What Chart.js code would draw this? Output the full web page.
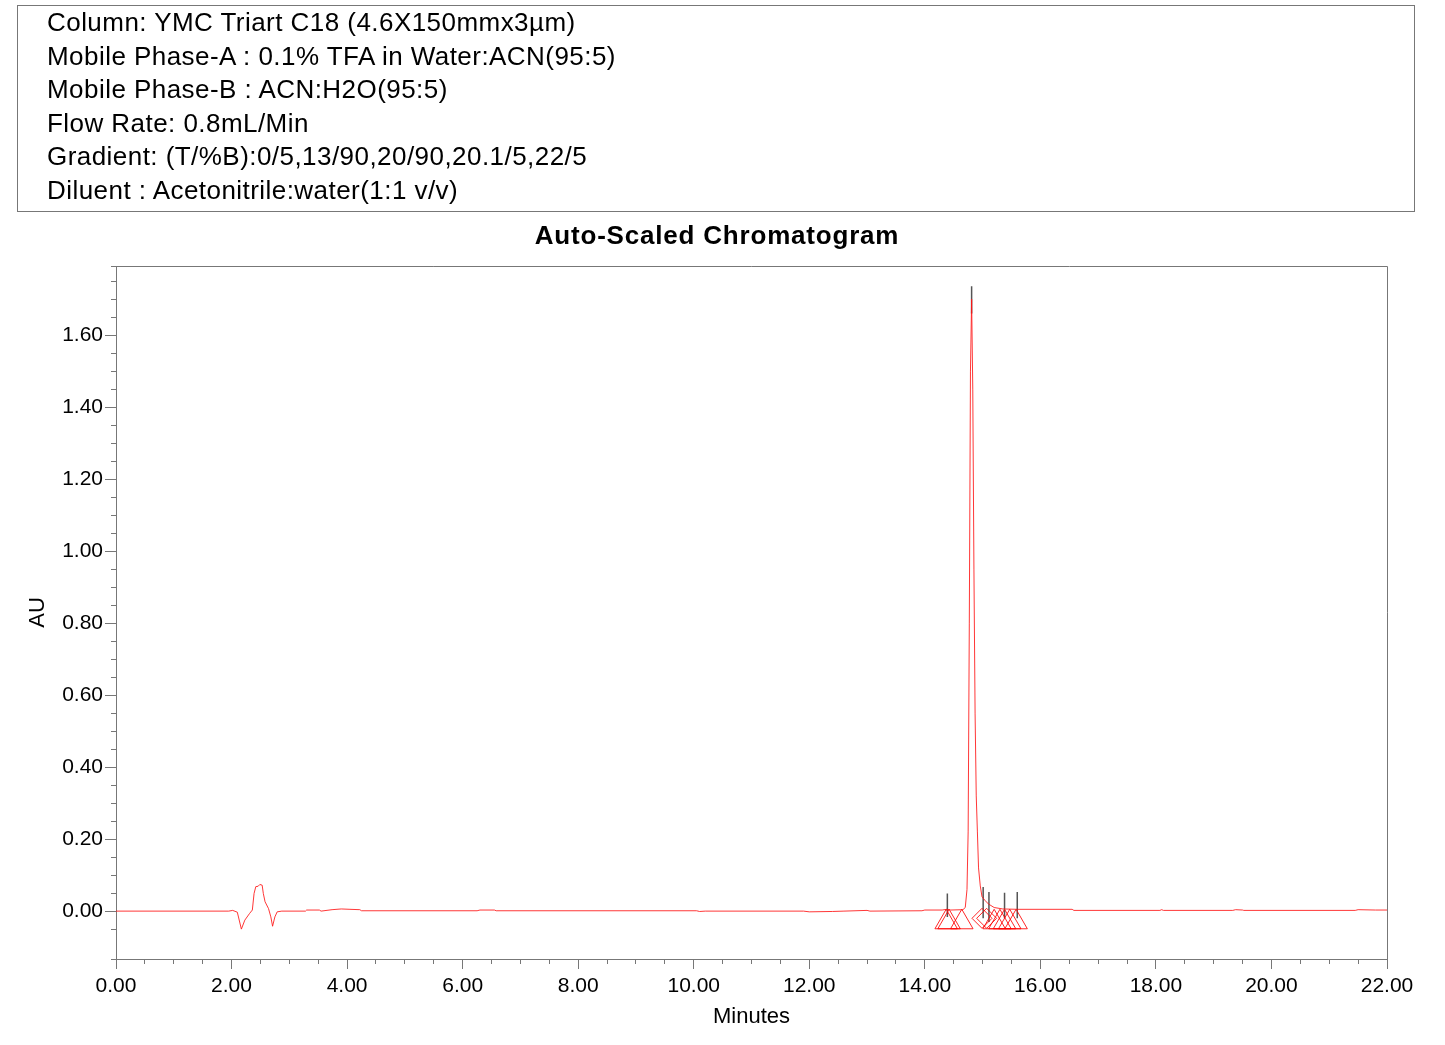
<!DOCTYPE html>
<html>
<head>
<meta charset="utf-8">
<script src="https://cdn.jsdelivr.net/npm/chart.js@4.4.1/dist/chart.umd.min.js"></script>
<style>
  body { margin: 0; background: #fff; font-family: "Liberation Sans", Arial, sans-serif; }
  #wrap { position: relative; width: 1445px; height: 1045px; }
  #info {
    position: absolute; left: 17px; top: 5px; width: 1398px; height: 207px;
    border: 1px solid #777; box-sizing: border-box;
    padding-left: 29px; font-size: 26px; letter-spacing: 0.45px; line-height: 33.6px; color: #000;
  }
  #title {
    position: absolute; left: 0; top: 220px; width: 1434px; text-align: center;
    font-size: 26px; font-weight: bold; letter-spacing: 0.8px; line-height: 30px; color: #000;
  }
  #chart { position: absolute; left: 0; top: 0; }
</style>
</head>
<body>
<div id="wrap">
  <canvas id="chart" width="1445" height="1045"></canvas>
  <div id="info">
    <div>Column: YMC Triart C18 (4.6X150mmx3µm)</div>
    <div>Mobile Phase-A : 0.1% TFA in Water:ACN(95:5)</div>
    <div>Mobile Phase-B : ACN:H2O(95:5)</div>
    <div>Flow Rate: 0.8mL/Min</div>
    <div>Gradient: (T/%B):0/5,13/90,20/90,20.1/5,22/5</div>
    <div>Diluent : Acetonitrile:water(1:1 v/v)</div>
  </div>
  <div id="title">Auto-Scaled Chromatogram</div>
</div>
<script>
// trace (minutes, AU)
const timeMin = [
  0.00, 1.95, 2.02, 2.10, 2.17, 2.23, 2.31, 2.36, 2.39, 2.42, 2.46, 2.49, 2.53, 2.55, 2.58,
  2.64, 2.68, 2.71, 2.75, 2.79, 2.87, 3.28, 3.30, 3.52, 3.55, 3.74, 3.90, 4.05, 4.22, 4.25,
  6.25, 6.30, 6.55, 6.58, 10.05, 10.10, 10.20, 11.90, 12.00, 12.40, 12.60, 13.00, 13.05,
  13.95, 14.00, 14.30, 14.38, 14.45, 14.66, 14.70, 14.73, 14.75, 14.77, 14.79, 14.81, 14.83,
  14.85, 14.87, 14.89, 14.91, 14.93, 14.96, 14.99, 15.04, 15.10, 15.20, 15.35, 15.60, 16.55,
  16.58, 18.07, 18.10, 18.13, 19.33, 19.38, 19.50, 19.52, 21.45, 21.50, 21.80, 22.00
];
const absAU = [
  0.000, 0.000, 0.002, -0.003, -0.050, -0.025, -0.007, 0.003, 0.049, 0.068, 0.069, 0.074, 0.072, 0.049, 0.026,
  0.007, -0.016, -0.042, -0.016, -0.002, 0.000, 0.000, 0.003, 0.003, 0.000, 0.004, 0.006, 0.005, 0.004, 0.001,
  0.001, 0.003, 0.003, 0.001, 0.001, -0.001, 0.000, 0.000, -0.002, -0.001, 0.000, 0.002, 0.000,
  0.001, 0.003, 0.003, 0.005, 0.003, 0.004, 0.010, 0.060, 0.220, 0.800, 1.500, 1.700, 1.450,
  0.950, 0.550, 0.320, 0.220, 0.120, 0.070, 0.040, 0.030, 0.020, 0.010, 0.006, 0.005, 0.005,
  0.002, 0.002, 0.004, 0.002, 0.002, 0.004, 0.003, 0.002, 0.002, 0.004, 0.003, 0.003
];

// peak apex markers (black lines)
const peakTimes = [14.39, 14.81, 15.01, 15.11, 15.38, 15.60];
const peakTop = [0.049, 1.736, 0.067, 0.053, 0.051, 0.053];
const peakBottom = [-0.016, 1.660, -0.020, -0.030, -0.020, -0.020];

// integration start/end markers
const triangleTimes = [14.37, 14.42, 14.64, 15.20, 15.30, 15.38, 15.47, 15.58];
const diamondTimes = [14.99, 15.07];

const triangleLevel = -0.031;
const diamondLevel = -0.020;

const yMin = -0.133, yMax = 1.792;
const xMin = 0, xMax = 22;

const trace = timeMin.map((t, i) => ({ x: t, y: absAU[i] }));
const peakLines = [];
peakTimes.forEach((t, i) => {
  peakLines.push({ x: t, y: peakBottom[i] }, { x: t, y: peakTop[i] }, { x: t, y: null });
});

const axisGrey = '#777';
const tickFont = { family: 'Liberation Sans', size: 21 };
const titleFont = { family: 'Liberation Sans', size: 22 };

const frame = {
  id: 'frame',
  afterDraw(chart) {
    const a = chart.chartArea, ctx = chart.ctx;
    ctx.save();
    ctx.strokeStyle = axisGrey;
    ctx.lineWidth = 1;
    ctx.beginPath();
    ctx.moveTo(a.left, a.top + 0.5);
    ctx.lineTo(a.right + 0.5, a.top + 0.5);
    ctx.lineTo(a.right + 0.5, a.bottom);
    ctx.stroke();
    ctx.restore();
  }
};

new Chart(document.getElementById('chart'), {
  type: 'scatter',
  data: {
    datasets: [
      {
        data: trace, showLine: true, borderColor: 'rgba(255,20,20,0.85)', borderWidth: 1,
        pointRadius: 0, tension: 0
      },
      {
        data: triangleTimes.map(t => ({ x: t, y: triangleLevel })),
        pointStyle: 'triangle', pointRadius: 13, borderColor: 'rgba(255,0,0,0.85)',
        backgroundColor: 'rgba(0,0,0,0)', borderWidth: 1
      },
      {
        data: diamondTimes.map(t => ({ x: t, y: diamondLevel })),
        pointStyle: 'rectRot', pointRadius: 10, borderColor: 'rgba(255,0,0,0.85)',
        backgroundColor: 'rgba(0,0,0,0)', borderWidth: 1
      },
      {
        data: peakLines, showLine: true, spanGaps: false, borderColor: '#555', borderWidth: 1.5,
        pointRadius: 0
      }
    ]
  },
  options: {
    responsive: false,
    animation: false,
    layout: { padding: { top: 266, right: 58, bottom: 0, left: 0 } },
    plugins: { legend: { display: false }, tooltip: { enabled: false } },
    scales: {
      x: {
        type: 'linear', position: 'bottom', min: xMin, max: xMax, weight: 1,
        ticks: {
          stepSize: 2, includeBounds: false, color: '#000', font: tickFont, padding: 5,
          maxRotation: 0, callback: v => v.toFixed(2)
        },
        grid: { drawOnChartArea: false, tickLength: 10, color: axisGrey },
        border: { color: axisGrey },
        title: { display: true, text: 'Minutes', color: '#000', font: titleFont, padding: { top: 0, bottom: 15 } },
        afterFit(s) { s.height = 86; }
      },
      xMinor: {
        type: 'linear', position: 'bottom', min: xMin, max: xMax, weight: 0,
        ticks: { stepSize: 0.5, display: false },
        grid: { drawOnChartArea: false, tickLength: 5, color: axisGrey },
        border: { display: false },
        afterFit(s) { s.height = 0; }
      },
      y: {
        type: 'linear', position: 'left', min: yMin, max: yMax, weight: 1,
        ticks: {
          stepSize: 0.2, includeBounds: false, color: '#000', font: tickFont, padding: 2,
          callback: v => v.toFixed(2)
        },
        grid: { drawOnChartArea: false, tickLength: 11, color: axisGrey },
        border: { color: axisGrey },
        title: { display: true, text: 'AU', color: '#000', font: titleFont, padding: { top: 25, bottom: 0 } },
        afterFit(s) { s.width = 116; }
      },
      yMinor: {
        type: 'linear', position: 'left', min: yMin, max: yMax, weight: 0,
        ticks: { stepSize: 0.05, display: false },
        grid: { drawOnChartArea: false, tickLength: 5, color: axisGrey },
        border: { display: false },
        afterFit(s) { s.width = 0; }
      }
    }
  },
  plugins: [frame]
});
</script>
</body>
</html>
